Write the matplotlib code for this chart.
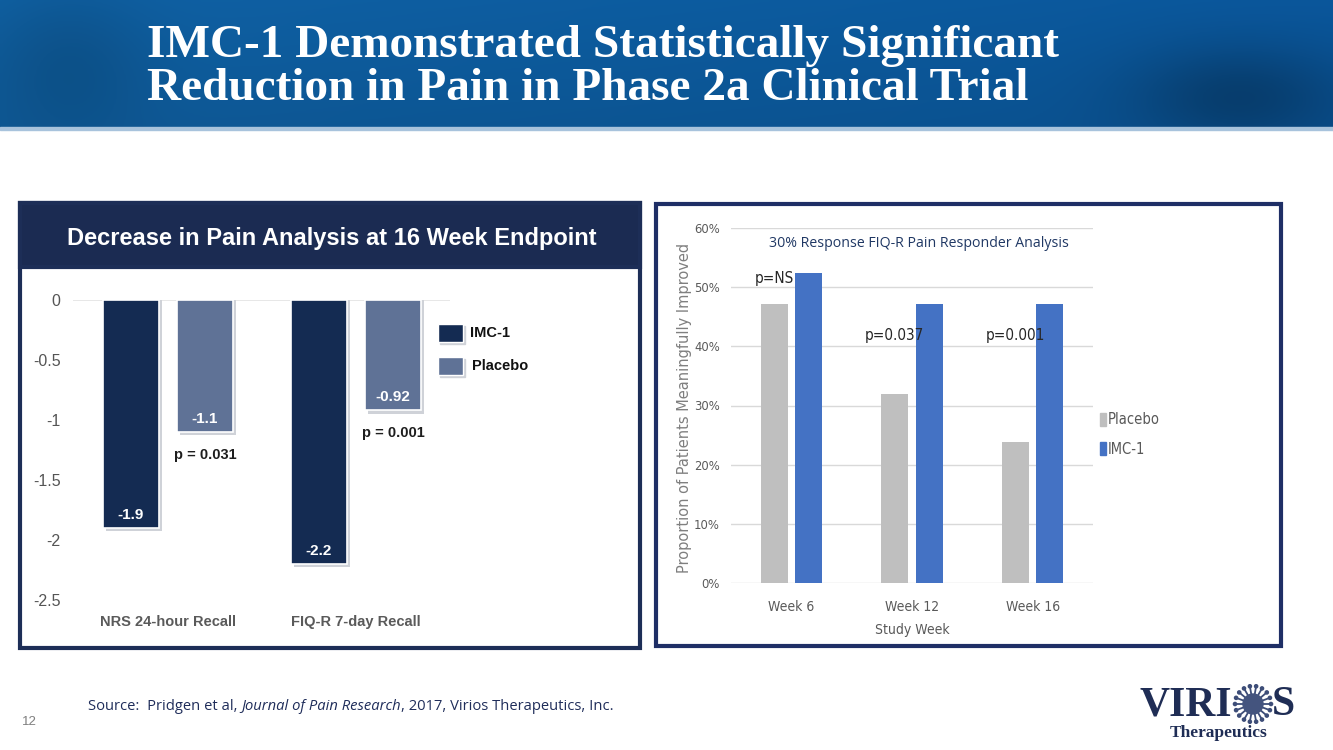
import os
import numpy as np
import matplotlib
matplotlib.use("Agg")
import matplotlib.pyplot as plt
from matplotlib import font_manager as fm
from matplotlib.patches import Rectangle, Circle

# ---- data ----
cats_left = ["NRS 24-hour Recall", "FIQ-R 7-day Recall"]
imc_left = [-1.9, -2.2]
placebo_left = [-1.1, -0.92]
p_left = ["p = 0.031", "p = 0.001"]
yticks_left = [0, -0.5, -1, -1.5, -2, -2.5]

weeks = ["Week 6", "Week 12", "Week 16"]
placebo_right = [47.1, 31.9, 23.9]
imc_right = [52.4, 47.1, 47.1]
p_right = ["p=NS", "p=0.037", "p=0.001"]
p_right_y = [51.4, 41.9, 41.9]
yticks_right = [0, 10, 20, 30, 40, 50, 60]

W, H = 1333, 750
NAVY = "#142b52"
PLACEBO_L = "#5f7296"
GREY_R = "#bfbfbf"
BLUE_R = "#4472c4"


def px(x, y, w, h):
    # pixel box (top-left origin) -> figure fraction
    return [x / W, 1 - (y + h) / H, w / W, h / H]


# look for a narrow sans font (the right chart uses a squeezed Calibri look)
NARROW_FP = fm.FontProperties(family="Liberation Sans")
prefs = ["sansnarrow-regular", "notosans-extracondensed.", "notosans-condensed.",
         "dejavusanscondensed.", "robotocondensed-regular", "roboto-regular"]
files = {os.path.basename(f.fname).lower(): f.fname for f in fm.fontManager.ttflist}
for key in prefs:
    hit = [v for k, v in files.items() if key in k]
    if hit:
        NARROW_FP = fm.FontProperties(fname=hit[0])
        break


def nfp(size):
    p = NARROW_FP.copy()
    p.set_size(size)
    return p


NS = 10

fig = plt.figure(figsize=(W / 100, H / 100), dpi=100)
fig.patch.set_facecolor("white")

# overlay axes in pixel coordinates for the slide decoration
ov = fig.add_axes([0, 0, 1, 1], zorder=0)
ov.set_xlim(0, W)
ov.set_ylim(H, 0)
ov.axis("off")

# banner gradient
gx = np.linspace(0, 1, 400)[None, :]
gy = np.linspace(0, 1, 60)[:, None]
c_left = np.array([0.06, 0.38, 0.64])
c_right = np.array([0.04, 0.34, 0.61])
img = c_left * (1 - gx[..., None]) + c_right * gx[..., None]
img = img * (1 - 0.08 * gy[..., None])
blob = np.exp(-(((gx - 0.93) / 0.08) ** 2 + ((gy - 0.75) / 0.4) ** 2))
img = img * (1 - 0.25 * blob[..., None])
glow = np.exp(-(((gx - 0.05) / 0.06) ** 2 + ((gy - 0.5) / 0.6) ** 2))
img = img * (1 - 0.12 * glow[..., None])
ov.imshow(np.clip(img, 0, 1), extent=(0, W, 128, 0), aspect="auto", zorder=0)
ov.add_patch(Rectangle((0, 127), W, 3, color="#a8c3dc", zorder=1))
ov.set_xlim(0, W)
ov.set_ylim(H, 0)

title_font = dict(family=["Liberation Serif", "DejaVu Serif"], weight="bold",
                  color="white", fontsize=34)
ov.text(147, 46, "IMC-1 Demonstrated Statistically Significant", va="center", **title_font)
ov.text(147, 89, "Reduction in Pain in Phase 2a Clinical Trial", va="center", **title_font)

# left panel frame
ov.add_patch(Rectangle((20, 203), 620, 445, facecolor="white", edgecolor="#1d2e57", lw=3, zorder=1))
ov.add_patch(Rectangle((20, 203), 620, 64, facecolor="#1b2b52", edgecolor="#1d2e57", lw=3, zorder=2))
ov.text(332, 239, "Decrease in Pain Analysis at 16 Week Endpoint", ha="center", va="center",
        color="white", fontsize=17, weight="bold", family=["Liberation Sans", "DejaVu Sans"], zorder=3)

# right panel frame
ov.add_patch(Rectangle((656, 204), 625, 442, facecolor="white", edgecolor="#1f2f66", lw=3, zorder=1))

# ---- left chart ----
axl = fig.add_axes(px(73, 300, 377, 300), zorder=2)
axl.patch.set_alpha(0)
x = np.arange(len(cats_left))
bw = 0.298
off = 0.197
sx, sy = 0.018, 0.028
axl.bar(x - off + sx, np.array(imc_left) - sy, bw, color="#cfd2d8", zorder=1)
axl.bar(x + off + sx, np.array(placebo_left) - sy, bw, color="#cfd2d8", zorder=1)
axl.bar(x - off, imc_left, bw, color=NAVY, edgecolor="white", lw=1.2, zorder=2)
axl.bar(x + off, placebo_left, bw, color=PLACEBO_L, edgecolor="white", lw=1.2, zorder=2)
for i in range(len(cats_left)):
    axl.text(x[i] - off, imc_left[i] + 0.11, str(imc_left[i]), ha="center", va="center",
             color="white", weight="bold", fontsize=11, family="Liberation Sans", zorder=3)
    axl.text(x[i] + off, placebo_left[i] + 0.11, str(placebo_left[i]), ha="center", va="center",
             color="white", weight="bold", fontsize=11, family="Liberation Sans", zorder=3)
    axl.text(x[i] + off, placebo_left[i] - 0.19, p_left[i], ha="center", va="center",
             color="#1e1e1e", weight="bold", fontsize=10.5, family="Liberation Sans")
    axl.text(x[i], -2.68, cats_left[i], ha="center", va="center", color="#5a5a5a",
             weight="bold", fontsize=10.5, family="Liberation Sans")
axl.axhline(0, color="#e3e3e3", lw=1.2, zorder=0)
axl.set_xlim(-0.505, 1.5)
axl.set_ylim(-2.5, 0)
axl.set_yticks(yticks_left)
axl.set_yticklabels([f"{t:g}" for t in yticks_left])
axl.tick_params(axis="y", length=0, pad=9, labelsize=11.5, labelcolor="#555555")
axl.tick_params(axis="x", length=0, labelbottom=False)
for lab in axl.get_yticklabels():
    lab.set_family("Liberation Sans")
for s in axl.spines.values():
    s.set_visible(False)

# left legend
for yy, col, name, tx in [(324, NAVY, "IMC-1", 470), (357, PLACEBO_L, "Placebo", 472)]:
    ov.add_patch(Rectangle((440, yy + 2), 25, 18, color="#cfd2d8", zorder=2))
    ov.add_patch(Rectangle((438, yy), 25, 18, facecolor=col, edgecolor="white", lw=1, zorder=3))
    ov.text(tx, yy + 9, name, va="center", fontsize=10.5, weight="bold", color="#111111",
            family="Liberation Sans", zorder=3)

# ---- right chart ----
axr = fig.add_axes(px(731, 228, 362, 355), zorder=2)
axr.patch.set_alpha(0)
xr = np.arange(len(weeks))
bwr = 0.225
offr = 0.143
axr.bar(xr - offr, placebo_right, bwr, color=GREY_R, zorder=2)
axr.bar(xr + offr, imc_right, bwr, color=BLUE_R, zorder=2)
axr.set_xlim(-0.5, 2.5)
axr.set_ylim(0, 60)
axr.set_yticks(yticks_right)
axr.set_yticklabels([f"{t}%" for t in yticks_right])
axr.grid(axis="y", color="#d9d9d9", lw=1, zorder=0)
axr.set_axisbelow(True)
axr.tick_params(axis="both", length=0, labelcolor="#595959")
axr.tick_params(axis="y", pad=8)
axr.tick_params(axis="x", pad=12)
axr.set_xticks(xr)
axr.set_xticklabels(weeks)
for lab in axr.get_yticklabels():
    lab.set_fontproperties(nfp(9.3))
for lab in axr.get_xticklabels():
    lab.set_fontproperties(nfp(NS))
for s in axr.spines.values():
    s.set_visible(False)
for i in range(len(weeks)):
    axr.text(xr[i] - offr, p_right_y[i], p_right[i], ha="center", va="center",
             fontproperties=nfp(11), color="#262626")
axr.text(1.06, 57.4, "30% Response FIQ-R Pain Responder Analysis", ha="center", va="center",
         fontsize=10.2, color="#203864", family=["Open Sans", "DejaVu Sans"])
axr.set_xlabel("Study Week", fontproperties=nfp(NS), color="#595959", labelpad=7)
ov.text(685, 408, "Proportion of Patients Meaningfully Improved", rotation=90, ha="center",
        va="center", fontsize=10.5, color="#7f7f7f", family="DejaVu Sans", zorder=3)

# right legend
for yy, col, name in [(420, GREY_R, "Placebo"), (449, BLUE_R, "IMC-1")]:
    ov.add_patch(Rectangle((1100, yy - 7), 6, 13, color=col, zorder=3))
    ov.text(1108, yy, name, va="center", fontproperties=nfp(NS + 0.5), color="#595959", zorder=3)

# ---- footer ----
fig.canvas.draw()
rend = fig.canvas.get_renderer()
src_font = dict(fontsize=10.6, color="#1f2d5a", va="center", zorder=3)
xx = 88
for part, style in [("Source:  Pridgen et al, ", "normal"), ("Journal of Pain Research", "italic"),
                    (", 2017, Virios Therapeutics, Inc.", "normal")]:
    t = ov.text(xx, 707, part, style=style, family=["Open Sans", "DejaVu Sans"], **src_font)
    bb = t.get_window_extent(renderer=rend)
    xx += bb.width
ov.text(22, 722, "12", fontsize=9.5, color="#7f7f7f", va="center", family="Liberation Sans")

# logo
logo_col = "#1f2d55"
ov.text(1140, 705, "VIRI", fontsize=30, weight="bold", color=logo_col, va="center",
        family=["Liberation Serif", "DejaVu Serif"])
ov.text(1272, 705, "S", fontsize=30, weight="bold", color=logo_col, va="center",
        family=["Liberation Serif", "DejaVu Serif"])
ov.text(1219, 733, "Therapeutics", fontsize=12.5, weight="bold", color=logo_col, ha="center",
        va="center", family=["Liberation Serif", "DejaVu Serif"])
cx, cy = 1253, 704
ang = np.linspace(0, 2 * np.pi, 18, endpoint=False)
for a in ang:
    ov.plot([cx, cx + 18 * np.cos(a)], [cy, cy + 18 * np.sin(a)], color="#3d4d78", lw=1.3, zorder=3)
    ov.add_patch(Circle((cx + 18 * np.cos(a), cy + 18 * np.sin(a)), 1.6, color="#3d4d78", zorder=3))
ov.add_patch(Circle((cx, cy), 10, color="#44547e", zorder=4))
ov.set_xlim(0, W)
ov.set_ylim(H, 0)

fig.savefig("out.png", dpi=100)
